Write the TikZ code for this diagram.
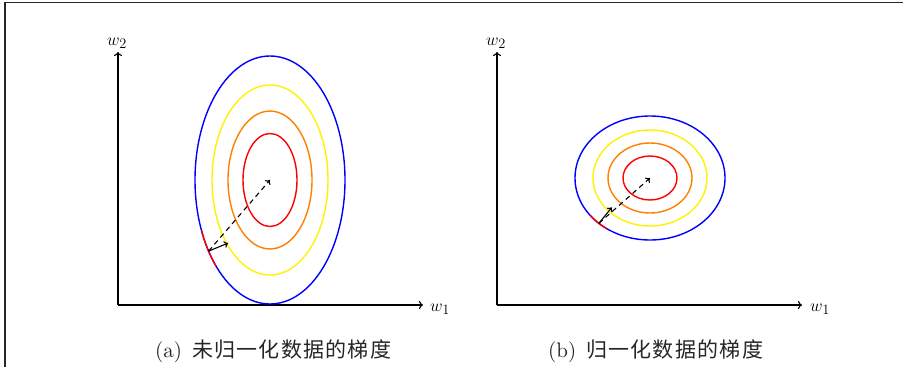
\documentclass[tikz,border=0pt]{standalone}
\usepackage{fontspec}
\newfontfamily\cjk{Noto Sans CJK SC}[Scale=1.0,LetterSpace=6]
\newfontfamily\lmten{lmroman10-regular.otf}
\usetikzlibrary{arrows.meta,calc}
\begin{document}
\begin{tikzpicture}[x=1pt,y=-1pt,
  framestyle/.style={line width=1.5pt,black!85},
  axisline/.style={line width=1.1pt,-{To[length=4pt,width=8pt]}},
  ell/.style={line width=1.4pt},
  gradline/.style={line width=1.1pt,-{To[length=4pt,width=7pt]}},
  dirline/.style={line width=1.1pt,dash pattern=on 5pt off 4pt,-{To[length=4pt,width=7pt]}},
  axlabel/.style={font=\fontsize{19}{22}\selectfont,inner sep=0pt,anchor=base west},
  captext/.style={font=\fontsize{21}{25}\selectfont\lmten,inner sep=0pt,anchor=base west,text=black!85}]
\useasboundingbox (0,0) rectangle (903,367);
% frame
\draw[framestyle] (5,367) -- (5,2.5) -- (903,2.5);

% ---------- (a) ----------
\coordinate (oa) at (118,305);
\coordinate (ya) at (118,52);
\coordinate (xa) at (423,305);
\draw[axisline] (oa) -- (ya);
\draw[axisline] (oa) -- (xa);
\node[axlabel] (w2a) at (107,45) {$w_2$};
\node[axlabel] (w1a) at (430,311) {$w_1$};

\coordinate (ca) at (270,180);
\draw[ell,blue]   (ca) ellipse [x radius=75, y radius=124];
\draw[ell,yellow] (ca) ellipse [x radius=58, y radius=95];
\draw[ell,orange] (ca) ellipse [x radius=42, y radius=69];
\draw[ell,red]    (ca) ellipse [x radius=27, y radius=46.5];
\draw[ell,red] ($(ca)+(156:75 and 124)$) arc[start angle=156,end angle=136,x radius=75,y radius=124];
\coordinate (pa) at ($(ca)+(145:75 and 124)$);
\coordinate (ga) at ($(pa)+(19.5,-8)$);
\draw[dirline] (pa) -- (ca);
\draw[gradline] (pa) -- (ga);
\node[captext] (capa) at (155,357) {(a)\hspace{10pt}{\cjk 未归一化数据的梯度}};

% ---------- (b) ----------
\coordinate (ob) at (497,305);
\coordinate (yb) at (497,52);
\coordinate (xb) at (802,305);
\draw[axisline] (ob) -- (yb);
\draw[axisline] (ob) -- (xb);
\node[axlabel] (w2b) at (486,45) {$w_2$};
\node[axlabel] (w1b) at (810,311) {$w_1$};

\coordinate (cb) at (650,178);
\draw[ell,blue]   (cb) ellipse [x radius=75, y radius=62];
\draw[ell,yellow] (cb) ellipse [x radius=57, y radius=48];
\draw[ell,orange] (cb) ellipse [x radius=42, y radius=35];
\draw[ell,red]    (cb) ellipse [x radius=27, y radius=22];
\draw[ell,red] ($(cb)+(143:75 and 62)$) arc[start angle=143,end angle=125,x radius=75,y radius=62];
\coordinate (pb) at ($(cb)+(133:75 and 62)$);
\coordinate (gb) at ($(pb)+(13,-16)$);
\draw[dirline] (pb) -- (cb);
\draw[gradline] (pb) -- (gb);
\node[captext] (capb) at (548,357) {(b)\hspace{10pt}{\cjk 归一化数据的梯度}};
\end{tikzpicture}
\end{document}
